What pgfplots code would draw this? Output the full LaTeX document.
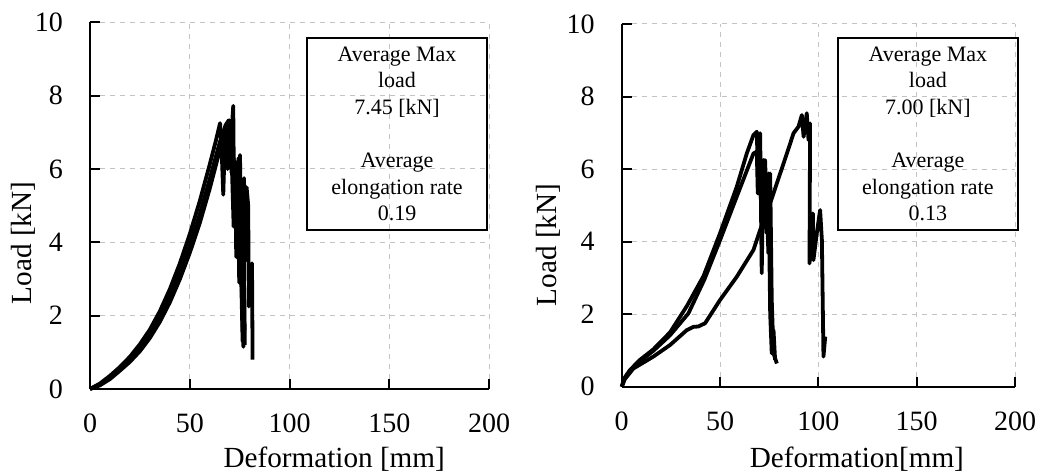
\documentclass[border=0pt]{standalone}
\usepackage{pgfplots}
\pgfplotsset{compat=1.18}
\usepackage{fontspec}
\setmainfont{Liberation Serif}
\definecolor{gridgray}{RGB}{195,195,195}
\newcommand{\tickfont}{\fontsize{14bp}{16bp}\selectfont}
\newcommand{\labfont}{\fontsize{14.6bp}{17bp}\selectfont}
\pgfplotsset{
 myaxis/.style={
  scale only axis,
  xmin=0,xmax=200,ymin=0,ymax=10,
  xtick={0,50,100,150,200}, ytick={0,2,4,6,8,10},
  axis x line=bottom, axis y line=left,
  axis line style={-, line width=1bp, black},
  tick align=inside, major tick length=5bp,
  tick style={line width=1bp, black},
  grid=major,
  major grid style={gridgray, dash pattern=on 2.5bp off 2.5bp, line width=0.5bp},
  /pgf/number format/assume math mode=true,
  xticklabel style={font=\tickfont, yshift=-9bp},
  yticklabel style={font=\tickfont, xshift=-10bp},
  clip=false,
 },
 curve/.style={black, line width=1.9bp, line join=round, mark=none},
}
\begin{document}
\begin{tikzpicture}
\useasboundingbox (0,0) rectangle (520bp,238bp);
% ---------------- left ----------------
\begin{axis}[myaxis, at={(45bp,43.5bp)}, anchor=south west,
  width=199.5bp, height=183.35bp,
  xlabel={Deformation [mm]}, ylabel={Load [kN]},
  xlabel style={font=\labfont, at={(axis description cs:0.612,-0.215)}, anchor=base},
  ylabel style={font=\labfont, at={(axis description cs:-0.168,0.398)}, anchor=center}]
\addplot[curve] coordinates {
(0,0) (5,0.15) (10,0.36) (15,0.6) (20,0.88) (25,1.22) (30,1.62) (35,2.12)
(40,2.72) (45,3.42) (50,4.22) (55,5.12) (60,6.12) (63,6.75) (65.2,7.25)
(66,6.5) (66.8,5.3) (67.5,6.6) (68.5,7.1) (69,6.0) (70,6.9) (71,5.9)
(72,6.3) (72.8,4.5) (73.5,5.8) (74.5,6.3) (75,3.5) (75.6,4.8) (76.3,2.0)
(76.9,1.15) (77.3,2.8) (77.6,1.2)};
\addplot[curve] coordinates {
(0,0) (5,0.12) (10,0.31) (15,0.55) (20,0.81) (25,1.12) (30,1.5) (35,1.97)
(40,2.52) (45,3.17) (50,3.92) (55,4.77) (60,5.72) (65,6.72) (68,7.2)
(69.6,7.33) (70.5,6.6) (71.8,7.72) (72.3,4.6) (72.8,6.2) (73.3,3.6)
(74,5.9) (74.8,2.9) (75.2,6.38) (75.8,3.0) (76.5,1.3) (77,4.5) (77.4,1.6)};
\addplot[curve] coordinates {
(0,0) (5,0.1) (10,0.27) (15,0.5) (20,0.74) (25,1.03) (30,1.39) (35,1.83)
(40,2.36) (45,2.99) (50,3.71) (55,4.52) (60,5.46) (65,6.5) (68.5,7.1)
(69.5,6.2) (70.5,7.3) (71,6.3) (72,4.43) (73,6.0) (74,4.2) (75,5.7)
(76,3.8) (77.2,5.75) (77.8,3.5) (78.5,5.5) (79.3,5.0) (79.6,2.25)
(80,3.0) (80.5,2.3) (81.2,3.43) (81.5,0.8)};
\draw[line width=1bp] (axis cs:108.8,9.58) rectangle (axis cs:199,4.34);
\node[align=center, font=\fontsize{11bp}{13.3bp}\selectfont] at (axis cs:153.9,6.96)
 {Average Max\\load\\7.45 [kN]\\[13.3bp]Average\\elongation rate\\0.19};
\end{axis}
% ---------------- right ----------------
\begin{axis}[myaxis, at={(310.85bp,44.65bp)}, anchor=south west,
  width=196.65bp, height=181.35bp,
  xlabel={Deformation[mm]}, ylabel={Load [kN]},
  xlabel style={font=\labfont, at={(axis description cs:0.598,-0.224)}, anchor=base},
  ylabel style={font=\labfont, at={(axis description cs:-0.187,0.391)}, anchor=center}]
\addplot[curve] coordinates {
(0,0) (1.5,0.25) (4.2,0.46) (9.3,0.74) (16.1,1.03) (24.6,1.5) (33.1,2.22)
(41.6,3.05) (50,4.23) (58.5,5.51) (63.6,6.43) (67,6.94) (68.7,7.03)
(69.5,5.33) (70.4,6.99) (71.2,3.13) (72.1,6.25) (73.8,4.23) (74.6,5.88)
(75.5,2.02) (76.3,0.92) (77.2,1.56) (78,0.74)};
\addplot[curve] coordinates {
(0,0) (1.5,0.22) (4.2,0.43) (9.3,0.7) (16.1,0.99) (24.6,1.42) (33.9,2.02)
(42,2.95) (50,4.04) (58.5,5.24) (67,6.43) (68.7,6.48) (69.2,5.33)
(70.4,5.88) (71.2,4.5) (72.9,6.25) (74.6,3.68) (75.5,5.88) (76.3,2.39)
(77.2,0.92) (78.9,0.64)};
\addplot[curve] coordinates {
(0,0) (1.5,0.2) (5.9,0.5) (16.1,0.83) (24.6,1.15) (33.1,1.56) (36.5,1.65)
(39,1.66) (42.4,1.75) (50,2.39) (58.5,3.03) (67,3.77) (70.4,4.32)
(75.5,5.06) (84,6.43) (87.4,6.99) (89.9,7.17) (91.6,7.49) (92.5,6.89)
(94.1,7.54) (95,6.8) (95.8,7.26) (95.5,3.4) (97.2,4.78) (97.5,3.49)
(99.2,4.23) (100.9,4.87) (101.8,4.04) (102.6,0.83) (103.5,1.38)};
\draw[line width=1bp] (axis cs:110,9.62) rectangle (axis cs:201.4,4.32);
\node[align=center, font=\fontsize{11bp}{13.3bp}\selectfont] at (axis cs:155.7,6.97)
 {Average Max\\load\\7.00 [kN]\\[13.3bp]Average\\elongation rate\\0.13};
\end{axis}
\end{tikzpicture}
\end{document}
